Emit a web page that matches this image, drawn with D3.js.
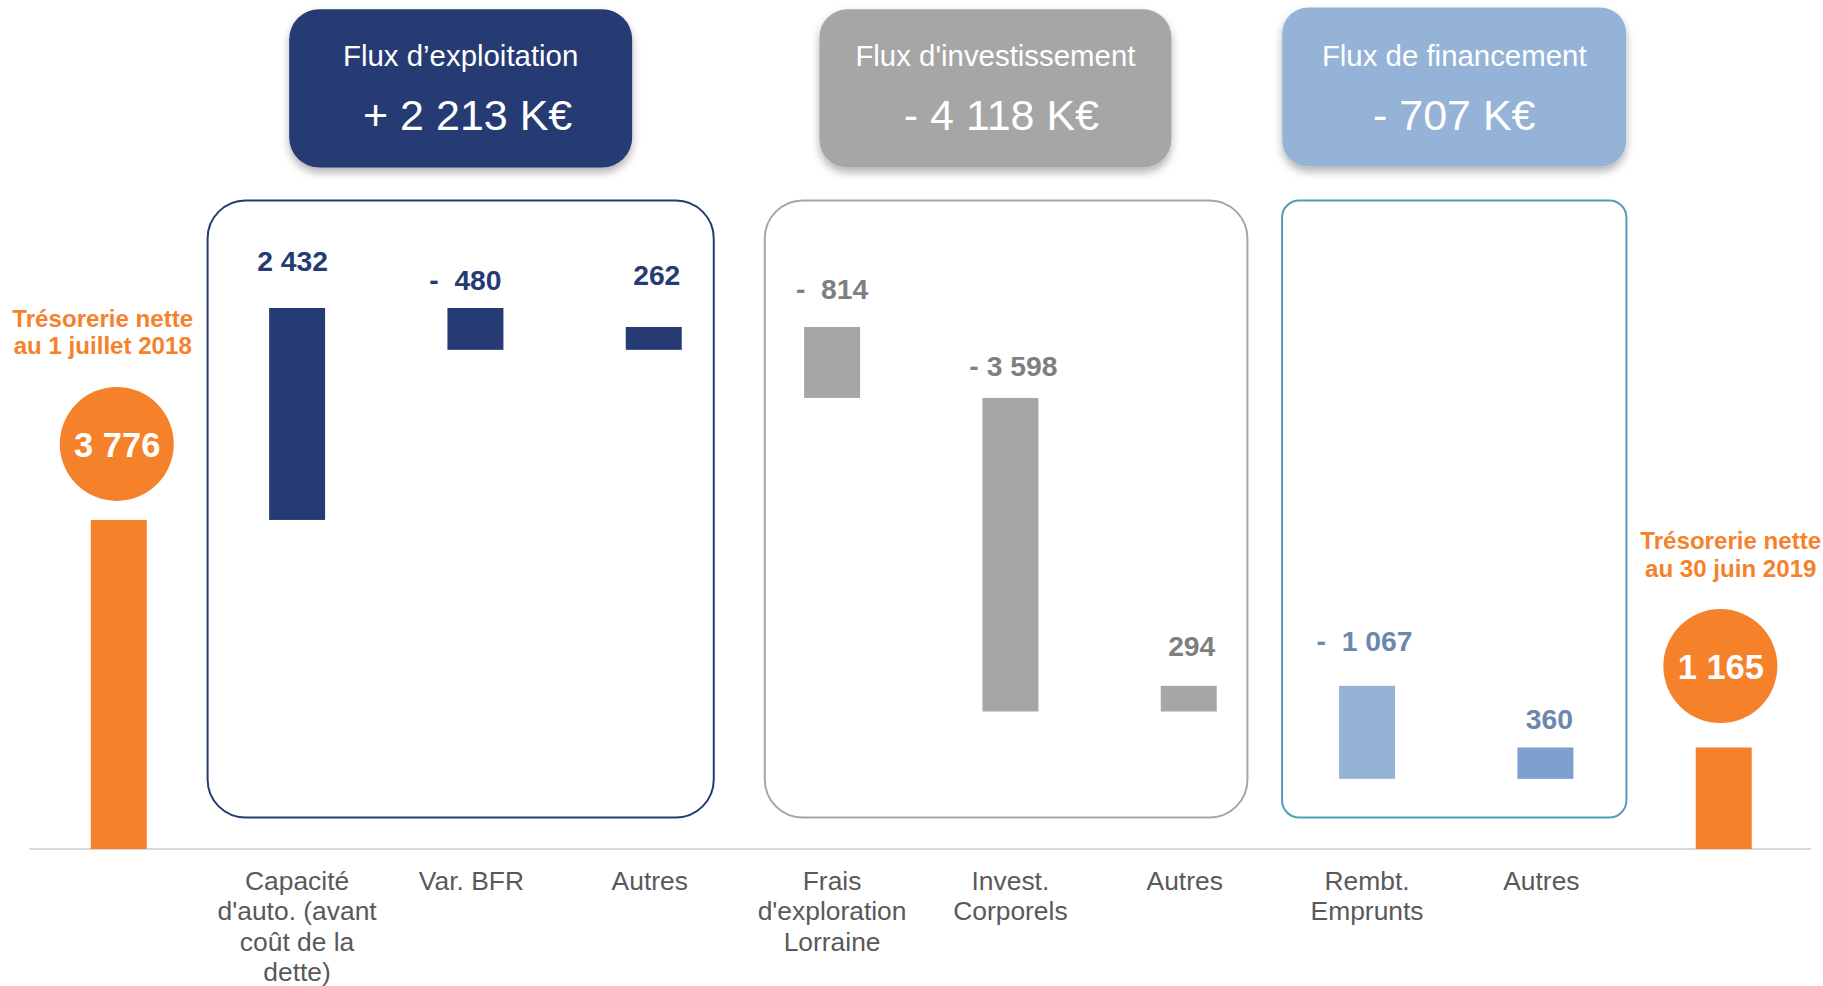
<!DOCTYPE html>
<html>
<head>
<meta charset="utf-8">
<script src="https://cdn.jsdelivr.net/npm/d3@7"></script>
<style>
  html, body { margin: 0; padding: 0; background: #ffffff; }
  svg { display: block; font-family: "Liberation Sans", Arial, Helvetica, sans-serif; }
  text { white-space: pre; }
</style>
</head>
<body>
<svg id="chart" width="1823" height="986"></svg>
<script>
// ---------------- DATA ----------------
const categoryKeys = ["start", "caf", "bfr", "autres1", "frais", "invest", "autres2", "rembt", "autres3", "end"];
const categoryLabels = [
  [],
  ["Capacité", "d'auto. (avant", "coût de la", "dette)"],
  ["Var. BFR"],
  ["Autres"],
  ["Frais", "d'exploration", "Lorraine"],
  ["Invest.", "Corporels"],
  ["Autres"],
  ["Rembt.", "Emprunts"],
  ["Autres"],
  []
];
// kind: "total" bars start at zero, "delta" bars float (waterfall)
const barKinds = ["total", "delta", "delta", "delta", "delta", "delta", "delta", "delta", "delta", "total"];
const flowValues = [3776, 2432, -480, 262, -814, -3598, 294, -1067, 360, 1165];
const valueLabels = ["3 776", "2 432", "-  480", "262", "-  814", "- 3 598", "294", "-  1 067", "360", "1 165"];
const barGroup = [-1, 0, 0, 0, 1, 1, 1, 2, 2, -1];

const endLabels = [["Trésorerie nette", "au 1 juillet 2018"], ["Trésorerie nette", "au 30 juin 2019"]];

const groupTitles = ["Flux d’exploitation", "Flux d'investissement", "Flux de financement"];
const groupTotals = ["+ 2 213 K€", "- 4 118 K€", "- 707 K€"];

// ---------------- STYLE / LAYOUT ----------------
const W = 1823, H = 986;
const baseY = 849, topY = 308;
const orange = "#F5822A";
const groupFill = ["#263B73", "#A6A6A6", "#95B3D7"];
const groupStroke = ["#263B73", "#A6A6A6", "#529EB6"];
const groupLabelColor = ["#263B73", "#7F7F7F", "#6B88AC"];
const barFill = ["#F5822A", "#263B73", "#263B73", "#263B73", "#A6A6A6", "#A6A6A6", "#A6A6A6", "#95B3D7", "#7EA0CF", "#F5822A"];
// label placement tweaks (baseline above bar top, horizontal shift)
const labelDy = [0, -37.5, -18, -42, -28, -21.5, -29.5, -34.5, -18, 0];
const labelDx = [0, -4.5, -10, 3, 0, 3, 3, -2.5, 4, 0];
const catDx = [0, 0, -4, -4, 0, 0, -4, 0, -4, 0];
// group frames: padding left of first bar center / right of last bar center
const framePad = [[89.5, 60], [67.3, 58.7], [85, 81]];
const frameRadius = [38, 38, 17];
const titleShift = [0, -10.7, 0];
const titleWidth = [343, 352, 344];
const titleTop = [9.3, 9.3, 7.5];
const titleBottom = [167.5, 167.5, 166.5];
const titleRadius = [30, 28, 26];
const totalDx = [7, 6, 0];

// ---------------- COMPUTE WATERFALL ----------------
let running = 0;
const bars = flowValues.map((v, i) => {
  let y0, y1;
  if (barKinds[i] === "total") { y0 = 0; y1 = v; running = v; }
  else { y0 = running; y1 = running + v; running = y1; }
  return { key: categoryKeys[i], i, v, lo: Math.min(y0, y1), hi: Math.max(y0, y1) };
});

const svg = d3.select("#chart");

const x = d3.scaleBand()
  .domain(categoryKeys)
  .range([29.6, 1812.9])
  .paddingInner(0.686)
  .paddingOuter(0.343);
const y = d3.scaleLinear()
  .domain([0, d3.max(bars, d => d.hi)])
  .range([baseY, topY]);
const cx = k => x(k) + x.bandwidth() / 2;

// defs: shadow
const defs = svg.append("defs");
const f = defs.append("filter").attr("id", "shadow")
  .attr("x", "-20%").attr("y", "-20%").attr("width", "140%").attr("height", "150%");
f.append("feDropShadow").attr("dx", 0).attr("dy", 5).attr("stdDeviation", 4)
  .attr("flood-color", "#000").attr("flood-opacity", 0.3);

// ---------------- GROUP FRAMES & TITLES ----------------
groupTitles.forEach((t, g) => {
  const members = bars.filter(b => barGroup[b.i] === g);
  const left = cx(members[0].key) - framePad[g][0];
  const right = cx(members[members.length - 1].key) + framePad[g][1];
  svg.append("rect")
    .attr("x", left).attr("y", 200.5)
    .attr("width", right - left).attr("height", 817.5 - 200.5)
    .attr("rx", frameRadius[g]).attr("ry", frameRadius[g])
    .attr("fill", "none").attr("stroke", groupStroke[g]).attr("stroke-width", 2);

  const mid = (left + right) / 2 + titleShift[g];
  svg.append("rect")
    .attr("x", mid - titleWidth[g] / 2).attr("y", titleTop[g])
    .attr("width", titleWidth[g]).attr("height", titleBottom[g] - titleTop[g])
    .attr("rx", titleRadius[g]).attr("ry", titleRadius[g])
    .attr("fill", groupFill[g]).attr("filter", "url(#shadow)");
  svg.append("text")
    .attr("x", mid).attr("y", 65.7)
    .attr("text-anchor", "middle").attr("fill", "#fff")
    .attr("font-size", 29.4).text(t);
  svg.append("text")
    .attr("x", mid + totalDx[g]).attr("y", 129.5)
    .attr("text-anchor", "middle").attr("fill", "#fff")
    .attr("font-size", 43).text(groupTotals[g]);
});

// ---------------- BASELINE ----------------
svg.append("line")
  .attr("x1", x.range()[0]).attr("x2", 1811)
  .attr("y1", baseY).attr("y2", baseY)
  .attr("stroke", "#D9D9D9").attr("stroke-width", 2);

// ---------------- BARS ----------------
svg.append("g").selectAll("rect").data(bars).join("rect")
  .attr("x", d => x(d.key))
  .attr("y", d => y(d.hi))
  .attr("width", x.bandwidth())
  .attr("height", d => y(d.lo) - y(d.hi))
  .attr("fill", d => barFill[d.i]);

// ---------------- VALUE LABELS (delta bars) ----------------
svg.append("g").selectAll("text").data(bars.filter(d => barKinds[d.i] === "delta")).join("text")
  .attr("x", d => cx(d.key) + labelDx[d.i])
  .attr("y", d => y(d.hi) + labelDy[d.i])
  .attr("text-anchor", "middle")
  .attr("font-weight", "bold")
  .attr("font-size", 28.3)
  .attr("fill", d => groupLabelColor[barGroup[d.i]])
  .text(d => valueLabels[d.i]);

// ---------------- TOTAL BARS: circles + orange labels ----------------
const totals = bars.filter(d => barKinds[d.i] === "total");
const circleCfg = [{ dx: -2, dy: -76, lx: -16, ly: -193.3 }, { dx: -3.4, dy: -81.4, lx: 7, ly: -198.4 }];
totals.forEach((d, j) => {
  const c = circleCfg[j];
  const ccx = cx(d.key) + c.dx, ccy = y(d.hi) + c.dy;
  svg.append("circle").attr("cx", ccx).attr("cy", ccy).attr("r", 57).attr("fill", orange);
  svg.append("text").attr("x", ccx + 0.5).attr("y", ccy + 12.8)
    .attr("text-anchor", "middle").attr("font-weight", "bold").attr("font-size", 34.5)
    .attr("fill", "#fff").text(valueLabels[d.i]);
  const t = svg.append("text").attr("text-anchor", "middle").attr("font-weight", "bold")
    .attr("font-size", 24.1).attr("fill", orange);
  endLabels[j].forEach((line, k) => {
    t.append("tspan").attr("x", cx(d.key) + c.lx).attr("y", y(d.hi) + c.ly + k * 27.6).text(line);
  });
});

// ---------------- CATEGORY LABELS ----------------
categoryKeys.forEach((k, i) => {
  if (!categoryLabels[i].length) return;
  const t = svg.append("text").attr("text-anchor", "middle").attr("font-size", 26.4).attr("fill", "#595959");
  categoryLabels[i].forEach((line, j) => {
    t.append("tspan").attr("x", cx(k) + catDx[i]).attr("y", 890 + j * 30.3).text(line);
  });
});
</script>
</body>
</html>
